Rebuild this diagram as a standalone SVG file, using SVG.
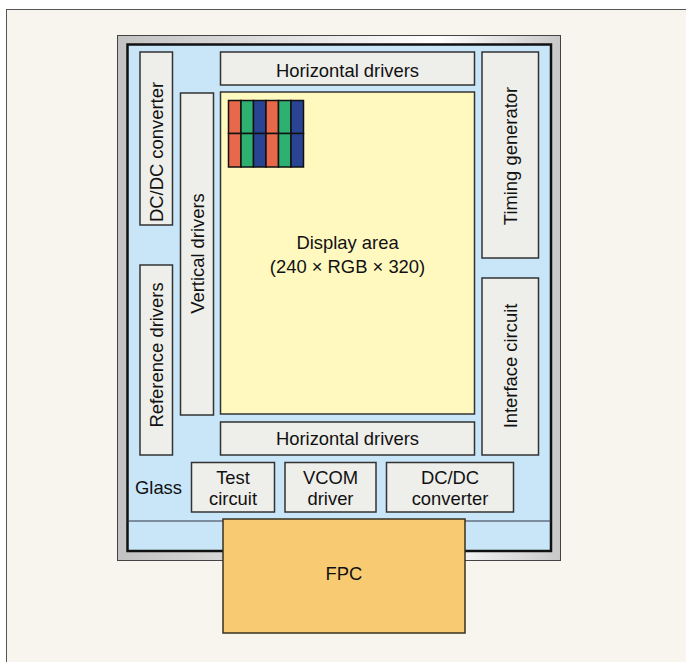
<svg xmlns="http://www.w3.org/2000/svg" width="686" height="662" viewBox="0 0 686 662">
<defs>
<linearGradient id="bez" x1="0" y1="0" x2="1" y2="0">
<stop offset="0" stop-color="#c2c2c2"/>
<stop offset="0.72" stop-color="#ffffff"/>
<stop offset="1" stop-color="#c8c8c8"/>
</linearGradient>
</defs>
<style>
.box{fill:#eeeeea;stroke:#333;stroke-width:1.5}
.t{font-family:"Liberation Sans",Arial,sans-serif;font-size:18.4px;fill:#111;text-anchor:middle}
.r{fill:#e8694a}.g{fill:#2eb070}.b{fill:#2a4494}
</style>
<rect x="6.5" y="9.5" width="700" height="700" fill="#f8f5ee" stroke="#555" stroke-width="1"/>
<g id="bezel">
<rect x="117.5" y="35.5" width="443" height="525" fill="url(#bez)" stroke="#444" stroke-width="1"/>
</g>
<g id="glass">
<rect x="127.5" y="44.5" width="423.5" height="506.5" fill="#c8e6f8" stroke="#111" stroke-width="2.5"/>
<line x1="127.5" y1="521" x2="551" y2="521" stroke="#334" stroke-width="1.2"/>
<text class="t" x="158.5" y="494">Glass</text>
</g>
<g id="dcdc-left"><rect class="box" x="140" y="52" width="32.5" height="173"/><text class="t" transform="translate(162.5,152) rotate(-90)">DC/DC converter</text></g>
<g id="ref-drivers"><rect class="box" x="140" y="265" width="32.5" height="190"/><text class="t" transform="translate(162.5,355) rotate(-90)">Reference drivers</text></g>
<g id="vert-drivers"><rect class="box" x="180.5" y="93" width="33" height="322"/><text class="t" transform="translate(204,253.5) rotate(-90)">Vertical drivers</text></g>
<g id="horiz-top"><rect class="box" x="220.5" y="52" width="254" height="33"/><text class="t" x="347.5" y="77">Horizontal drivers</text></g>
<g id="display"><rect x="220.5" y="92" width="254" height="322" fill="#fff9c0" stroke="#333" stroke-width="1.5"/>
<text class="t" x="347.5" y="249">Display area</text><text class="t" x="347.5" y="273">(240 × RGB × 320)</text></g>
<g id="pixels" stroke="#111" stroke-width="1.5">
<rect class="r" x="228.5" y="100.5" width="12.5" height="33"/><rect class="g" x="241" y="100.5" width="12.5" height="33"/><rect class="b" x="253.5" y="100.5" width="12.5" height="33"/>
<rect class="r" x="266" y="100.5" width="12.5" height="33"/><rect class="g" x="278.5" y="100.5" width="12.5" height="33"/><rect class="b" x="291" y="100.5" width="12.5" height="33"/>
<rect class="r" x="228.5" y="133.5" width="12.5" height="33.5"/><rect class="g" x="241" y="133.5" width="12.5" height="33.5"/><rect class="b" x="253.5" y="133.5" width="12.5" height="33.5"/>
<rect class="r" x="266" y="133.5" width="12.5" height="33.5"/><rect class="g" x="278.5" y="133.5" width="12.5" height="33.5"/><rect class="b" x="291" y="133.5" width="12.5" height="33.5"/>
</g>
<g id="timing"><rect class="box" x="482" y="52" width="56.5" height="206"/><text class="t" transform="translate(517,156) rotate(-90)">Timing generator</text></g>
<g id="interface"><rect class="box" x="482" y="278" width="56.5" height="177"/><text class="t" transform="translate(517,366) rotate(-90)">Interface circuit</text></g>
<g id="horiz-bottom"><rect class="box" x="220.5" y="422" width="254" height="33"/><text class="t" x="347.5" y="445">Horizontal drivers</text></g>
<g id="test"><rect class="box" x="191.5" y="462.5" width="83" height="49.5"/><text class="t" x="233" y="484">Test</text><text class="t" x="233" y="505">circuit</text></g>
<g id="vcom"><rect class="box" x="285" y="462.5" width="91" height="49.5"/><text class="t" x="330.5" y="484">VCOM</text><text class="t" x="330.5" y="505">driver</text></g>
<g id="dcdc-bottom"><rect class="box" x="386.5" y="462.5" width="127" height="49.5"/><text class="t" x="450" y="484">DC/DC</text><text class="t" x="450" y="505">converter</text></g>
<g id="fpc"><rect x="223" y="519" width="242" height="114" fill="#f8cb72" stroke="#3a3020" stroke-width="1.5"/><text class="t" x="344" y="580">FPC</text></g>
<g id="connectors"/>
</svg>
